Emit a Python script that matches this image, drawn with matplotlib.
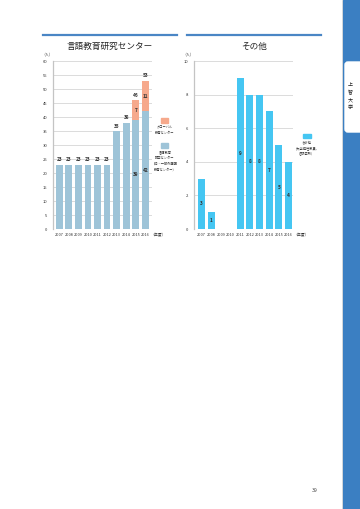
import numpy as np
import matplotlib
matplotlib.use("Agg")
import matplotlib.pyplot as plt
from matplotlib.patches import Rectangle, FancyBboxPatch
from matplotlib.lines import Line2D

plt.rcParams['font.family'] = ['Noto Sans CJK JP', 'DejaVu Sans']

years = ['2007', '2008', '2009', '2010', '2011', '2012', '2013', '2014', '2015', '2016']
gengo = [23, 23, 23, 23, 23, 23, 35, 38, 39, 42]
global_c = [0, 0, 0, 0, 0, 0, 0, 0, 7, 11]
sonota = [3, 1, 0, 0, 9, 8, 8, 7, 5, 4]

c_gengo = '#9ec4d8'
c_global = '#f6a98c'
c_sonota = '#45c6f2'
c_band = '#3b7fc2'
c_grid = '#d6d6d6'
c_text = '#333333'

W, H = 360, 509
fig = plt.figure(figsize=(W / 100, H / 100), dpi=100)


def px_axes(x0, y0, x1, y1):
    # pixel box (top-left origin) -> figure axes
    return fig.add_axes([x0 / W, 1 - y1 / H, (x1 - x0) / W, (y1 - y0) / H])


def style(ax, ymax, step, xl, xr):
    ax.set_ylim(0, ymax)
    ax.set_xlim(xl, xr)
    ax.set_yticks(np.arange(0, ymax + 0.1, step))
    ax.yaxis.grid(True, color=c_grid, linewidth=0.6)
    ax.set_axisbelow(True)
    for s in ['top', 'right', 'bottom']:
        ax.spines[s].set_visible(False)
    ax.spines['left'].set_color('#c4c4c4')
    ax.spines['left'].set_linewidth(0.9)
    ax.tick_params(axis='y', length=0, labelsize=3.0, colors=c_text, pad=4)
    ax.tick_params(axis='x', length=0, labelsize=2.8, colors=c_text, pad=3)
    ax.set_xticks(range(len(years)))
    ax.set_xticklabels(years)
    ax.text(-0.06, 1.025, '（人）', transform=ax.transAxes, fontsize=2.8,
            ha='center', va='bottom', color=c_text)
    ax.text(len(years) - 0.5, -ymax * 0.036, '（年度）', fontsize=2.8,
            ha='left', va='center', color=c_text)


x = np.arange(len(years))
lab = dict(fontsize=3.4, color=c_text, fontweight='bold')

# left chart
ax1 = px_axes(53, 61, 152, 229)
style(ax1, 60, 5, -0.65, 9.7)
ax1.bar(x, gengo, width=0.7, color=c_gengo)
ax1.bar(x, global_c, width=0.7, bottom=gengo, color=c_global)
for i in range(len(years)):
    tot = gengo[i] + global_c[i]
    ax1.text(i, tot + 0.8, str(tot), ha='center', va='bottom', **lab)
    if global_c[i] > 0:
        ax1.text(i, gengo[i] + global_c[i] / 2, str(global_c[i]), ha='center',
                 va='center', **lab)
        ax1.text(i, gengo[i] / 2, str(gengo[i]), ha='center', va='center', **lab)

# right chart
ax2 = px_axes(194, 61, 293, 229)
style(ax2, 10, 2, -0.78, 9.45)
ax2.bar(x, sonota, width=0.72, color=c_sonota)
for i, v in enumerate(sonota):
    if v > 0:
        ax2.text(i, v / 2, str(v), ha='center', va='center', **lab)

# titles and top rules
fig.add_artist(Line2D([43 / W, 177 / W], [1 - 35 / H] * 2, color='#4a86c5', lw=1.6))
fig.add_artist(Line2D([187 / W, 321 / W], [1 - 35 / H] * 2, color='#4a86c5', lw=1.6))
fig.text(110 / W, 1 - 46 / H, '言語教育研究センター', ha='center', va='center',
         fontsize=6.2, color='#222222')
fig.text(254 / W, 1 - 46 / H, 'その他', ha='center', va='center',
         fontsize=6.2, color='#222222')

# legends
leg = dict(ha='center', va='top', fontsize=2.3, color=c_text, linespacing=1.6)
fig.add_artist(Rectangle((161 / W, 1 - 123 / H), 7 / W, 5 / H, color=c_global))
fig.text(165 / W, 1 - 125 / H, 'グローバル\n教育センター', **leg)
fig.add_artist(Rectangle((161 / W, 1 - 148 / H), 7 / W, 5 / H, color=c_gengo))
fig.text(165 / W, 1 - 150 / H, '言語教育\n研究センター\n（旧・一般外国語\n教育センター）', **leg)
fig.add_artist(Rectangle((303 / W, 1 - 138 / H), 8 / W, 4 / H, color=c_sonota))
fig.text(307 / W, 1 - 140 / H, 'その他\n（大学特任教員、\n各研究所）', **leg)

# side band
fig.add_artist(Line2D([342 / W] * 2, [0, 1], color='#d0d0d0', lw=0.5))
fig.add_artist(Rectangle((343 / W, 0), 17 / W, 1, color=c_band))
fig.add_artist(FancyBboxPatch((345 / W, 1 - 132 / H), 20 / W, 70 / H,
                              boxstyle='round,pad=0,rounding_size=0.008',
                              color='white', mutation_aspect=W / H))
for k, ch in enumerate('上智大学'):
    fig.text(350 / W, 1 - (85 + 7.6 * k) / H, ch, ha='center', va='center',
             fontsize=3.6, color='#222222')

fig.text(315 / W, 1 - 490 / H, '39', ha='center', va='center', fontsize=3.8,
         color='#444444')

fig.savefig('out.png', dpi=100)
